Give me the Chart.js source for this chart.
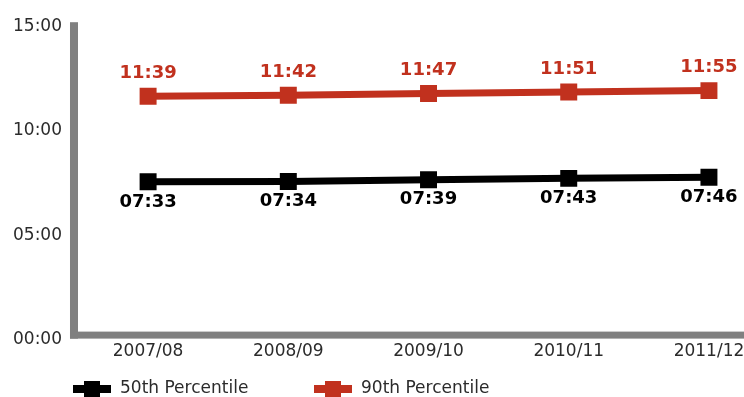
<!DOCTYPE html>
<html>
<head>
<meta charset="utf-8">
<script src="https://cdn.jsdelivr.net/npm/chart.js@4/dist/chart.umd.min.js"></script>
<style>
  html, body { margin: 0; padding: 0; background: #fff; }
  #wrap { width: 744px; height: 397px; position: relative; }
</style>
</head>
<body>
<div id="wrap"><canvas id="chart"></canvas></div>
<script>
// response times per year, as mm:ss
const years = ['2007/08', '2008/09', '2009/10', '2010/11', '2011/12'];
const p50 = ['07:33', '07:34', '07:39', '07:43', '07:46'];
const p90 = ['11:39', '11:42', '11:47', '11:51', '11:55'];
const seriesNames = ['50th Percentile', '90th Percentile'];
const yTicks = [0, 5, 10, 15];

const RED = '#c1311e';
const BLACK = '#000000';
const AXIS = '#808080';
const TEXT = '#2b2b2b';
const FONT = '"DejaVu Sans", sans-serif';

const toMinutes = s => {
    const [m, sec] = s.split(':').map(Number);
    return m + sec / 60;
};
const fmt = v => String(Math.floor(v)).padStart(2, '0') + ':' + String(Math.round((v % 1) * 60)).padStart(2, '0');

const points = arr => arr.map((t, i) => ({ x: i, y: toMinutes(t), label: t }));

// thick grey axis bars on the left and bottom
const axisBars = {
    id: 'axisBars',
    beforeDatasetsDraw(chart) {
        const { ctx, chartArea: a } = chart;
        ctx.save();
        ctx.fillStyle = AXIS;
        ctx.fillRect(a.left - 8, a.top - 4, 8, a.bottom - a.top + 3);
        ctx.fillRect(a.left - 8, a.bottom - 8, chart.width - a.left + 8, 7);
        ctx.restore();
    }
};

// value labels: above the 90th line, below the 50th line
const valueLabels = {
    id: 'valueLabels',
    afterDatasetsDraw(chart) {
        const { ctx } = chart;
        ctx.save();
        ctx.font = 'bold 18px ' + FONT;
        ctx.textAlign = 'center';
        ctx.textBaseline = 'middle';
        chart.data.datasets.forEach((ds, i) => {
            const meta = chart.getDatasetMeta(i);
            ctx.fillStyle = ds.borderColor;
            meta.data.forEach((pt, j) => {
                const dy = ds.labelAbove ? -23 : 20;
                ctx.fillText(ds.data[j].label, pt.x, pt.y + dy);
            });
        });
        ctx.restore();
    }
};

// legend row: line with a square marker, then the series name
const lineLegend = {
    id: 'lineLegend',
    afterDraw(chart) {
        const { ctx } = chart;
        const starts = [73, 314];
        const y = 389;
        ctx.save();
        ctx.font = '17px ' + FONT;
        ctx.textBaseline = 'middle';
        chart.data.datasets.forEach((ds, i) => {
            const x = starts[i];
            ctx.fillStyle = ds.borderColor;
            ctx.fillRect(x, y - 4, 38, 8);
            ctx.fillRect(x + 11, y - 8, 16, 16);
            ctx.fillStyle = TEXT;
            ctx.fillText(ds.label, x + 47, y);
        });
        ctx.restore();
    }
};

new Chart(document.getElementById('chart'), {
    type: 'line',
    data: {
        datasets: [
            {
                label: seriesNames[0],
                data: points(p50),
                borderColor: BLACK,
                backgroundColor: BLACK,
                labelAbove: false
            },
            {
                label: seriesNames[1],
                data: points(p90),
                borderColor: RED,
                backgroundColor: RED,
                labelAbove: true
            }
        ]
    },
    options: {
        responsive: true,
        maintainAspectRatio: false,
        animation: false,
        layout: { autoPadding: false, padding: { left: -3, top: 8, right: 0, bottom: 33 } },
        elements: {
            line: { borderWidth: 7, tension: 0 },
            point: { pointStyle: 'rect', radius: 12, hoverRadius: 12, borderWidth: 0 }
        },
        plugins: {
            legend: { display: false },
            tooltip: { enabled: false }
        },
        scales: {
            x: {
                type: 'linear',
                min: -0.5,
                max: 4.25,
                afterBuildTicks: scale => { scale.ticks = years.map((_, i) => ({ value: i })); },
                // let the last year label run to the canvas edge
                afterFit: scale => { scale.paddingLeft = 0; scale.paddingRight = 0; },
                grid: { display: false, drawTicks: false },
                border: { display: false },
                ticks: {
                    padding: 2,
                    color: TEXT,
                    font: { family: FONT, size: 17 },
                    callback: v => years[v]
                }
            },
            y: {
                min: 0,
                max: 15,
                afterBuildTicks: scale => { scale.ticks = yTicks.map(v => ({ value: v })); },
                grid: { display: false, drawTicks: false },
                border: { display: false },
                ticks: {
                    padding: 16,
                    color: TEXT,
                    font: { family: FONT, size: 17 },
                    callback: v => fmt(v)
                }
            }
        }
    },
    plugins: [axisBars, valueLabels, lineLegend]
});
</script>
</body>
</html>
